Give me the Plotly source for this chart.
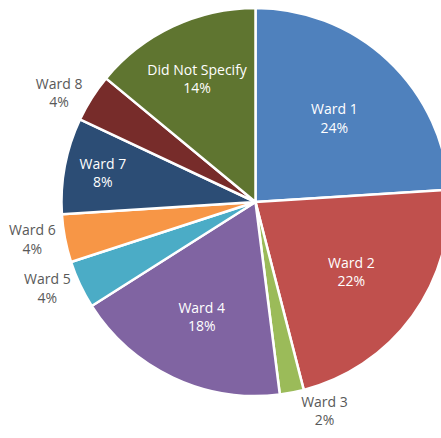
import plotly.graph_objects as go

labels = ["Ward 1", "Ward 2", "Ward 3", "Ward 4", "Ward 5", "Ward 6", "Ward 7", "Ward 8", "Did Not Specify"]
values = [24, 22, 2, 18, 4, 4, 8, 4, 14]
colors = ["#4F81BD", "#C0504D", "#9BBB59", "#8064A2", "#4BACC6", "#F79646", "#2C4D75", "#772C2A", "#5F7530"]
positions = ["inside", "inside", "outside", "inside", "outside", "outside", "inside", "outside", "inside"]

W, H = 460, 438
cx, cy, r = 255.5, 202, 194

fig = go.Figure(go.Pie(
    labels=labels,
    values=values,
    sort=False,
    direction="clockwise",
    rotation=0,
    marker=dict(colors=colors, line=dict(color="white", width=2.5)),
    textposition=positions,
    texttemplate="%{label}<br>%{percent:.0%}",
    insidetextorientation="horizontal",
    insidetextfont=dict(color="white", size=14, family="Open Sans"),
    outsidetextfont=dict(color="#595959", size=14, family="Open Sans"),
    showlegend=False,
    hoverinfo="label+percent",
    domain=dict(x=[(cx - r) / W, (cx + r) / W], y=[(H - cy - r) / H, (H - cy + r) / H]),
))

fig.update_layout(
    width=W, height=H,
    margin=dict(l=0, r=0, t=0, b=0),
    paper_bgcolor="white",
    plot_bgcolor="white",
    uniformtext=dict(minsize=10, mode="show"),
)

fig.write_html("out.html", post_script="document.body.style.overflow='hidden';document.documentElement.style.overflow='hidden';")
